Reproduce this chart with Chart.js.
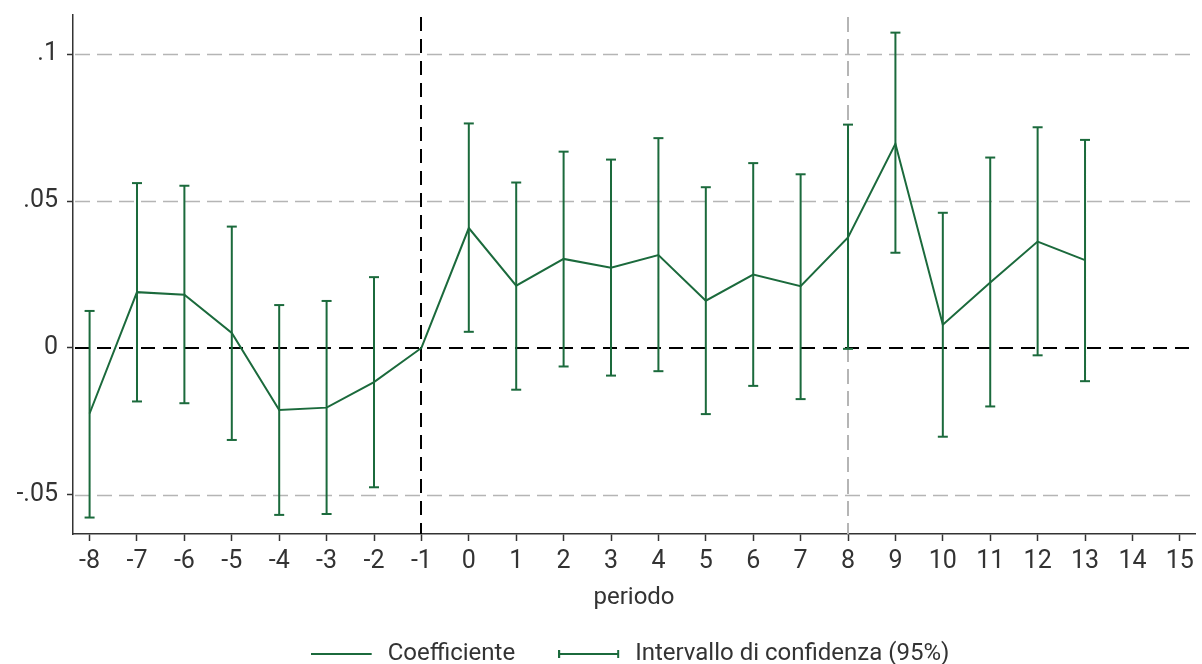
<!DOCTYPE html>
<html>
<head>
<meta charset="utf-8">
<title>Coefficienti per periodo</title>
<script src="https://cdn.jsdelivr.net/npm/chart.js@4/dist/chart.umd.min.js"></script>
<style>
  html, body { margin: 0; padding: 0; background: #ffffff; }
  #wrap { width: 1202px; height: 664px; }
</style>
</head>
<body>
<div id="wrap"><canvas id="chart" width="1202" height="664"></canvas></div>
<script>
// Periods relative to the event (period -1 is the reference, fixed at 0)
const periods = [-8, -7, -6, -5, -4, -3, -2, -1, 0, 1, 2, 3, 4, 5, 6, 7, 8, 9, 10, 11, 12, 13];

// Point estimates
const coefficients = [-0.0223, 0.0190, 0.0181, 0.0051, -0.0211, -0.0203, -0.0116, 0.0000,
                      0.0408, 0.0212, 0.0303, 0.0273, 0.0316, 0.0161, 0.0250, 0.0210,
                      0.0376, 0.0695, 0.0079, 0.0223, 0.0362, 0.0299];

// 95% confidence bounds (none for the reference period)
const ciLower = [-0.0577, -0.0182, -0.0188, -0.0313, -0.0568, -0.0565, -0.0474, null,
                  0.0055, -0.0142, -0.0063, -0.0094, -0.0079, -0.0225, -0.0129, -0.0174,
                 -0.0003, 0.0324, -0.0302, -0.0199, -0.0025, -0.0113];
const ciUpper = [0.0126, 0.0561, 0.0552, 0.0413, 0.0146, 0.0160, 0.0241, null,
                 0.0764, 0.0563, 0.0668, 0.0641, 0.0714, 0.0547, 0.0629, 0.0591,
                 0.0760, 0.1073, 0.0460, 0.0648, 0.0751, 0.0708];

// Axis ticks
const xTicks = [-8, -7, -6, -5, -4, -3, -2, -1, 0, 1, 2, 3, 4, 5, 6, 7, 8, 9, 10, 11, 12, 13, 14, 15];
const yTicks = [-0.05, 0, 0.05, 0.1];
const yTickLabels = ['-.05', '0', '.05', '.1'];

// Vertical reference lines
const eventLine = [-1];
const markerLine = [8];

const GREEN = '#1b6a3c';
const GRID = '#b5b5b5';
const INK = '#333333';

Chart.defaults.font.family = 'Roboto, "Noto Sans", sans-serif';
Chart.defaults.color = INK;

// Error-bar series: each interval is a two-point segment, broken by a null
const ciPoints = [];
periods.forEach((p, i) => {
  if (ciLower[i] === null || ciUpper[i] === null) return;
  ciPoints.push({ x: p, y: ciLower[i] }, { x: p, y: ciUpper[i] }, { x: p, y: null });
});

// Legend symbols
function legendSymbol(withCaps) {
  const c = document.createElement('canvas');
  c.width = 65; c.height = 12;
  const g = c.getContext('2d');
  g.strokeStyle = GREEN;
  g.lineWidth = 2;
  g.beginPath();
  g.moveTo(0, 6); g.lineTo(61, 6);
  if (withCaps) {
    g.moveTo(1, 2); g.lineTo(1, 10);
    g.moveTo(60, 2); g.lineTo(60, 10);
  }
  g.stroke();
  return c;
}
const symCoef = legendSymbol(false);
const symCI = legendSymbol(true);

// Gridlines and reference lines, placed through the chart scales
const referenceLines = {
  id: 'referenceLines',
  beforeDatasetsDraw(chart) {
    const { ctx, chartArea: a, scales: { x, y } } = chart;
    const seg = (x1, y1, x2, y2, color, width, dash) => {
      ctx.save();
      ctx.strokeStyle = color;
      ctx.lineWidth = width;
      ctx.setLineDash(dash);
      ctx.beginPath();
      ctx.moveTo(x1, y1);
      ctx.lineTo(x2, y2);
      ctx.stroke();
      ctx.restore();
    };
    yTicks.forEach(v => {
      if (v === 0) return;
      const py = Math.round(y.getPixelForValue(v)) + 0.5;
      seg(a.left + 2, py, a.right, py, GRID, 1.5, [15, 7]);
    });
    markerLine.forEach(v => {
      const px = Math.round(x.getPixelForValue(v));
      seg(px, a.top + 2, px, a.bottom, GRID, 2, [15, 7]);
    });
    const py0 = Math.round(y.getPixelForValue(0));
    seg(a.left + 2, py0, a.right, py0, '#000000', 2, [14, 8]);
    eventLine.forEach(v => {
      const px = Math.round(x.getPixelForValue(v));
      seg(px, a.top + 2, px, a.bottom, '#000000', 2, [14, 8]);
    });
  }
};

// Centre the legend row under the plot rather than the whole canvas
const legendOffset = {
  id: 'legendOffset',
  afterLayout(chart) {
    const lg = chart.legend;
    if (!lg) return;
    lg.left += 30;
    lg.right += 30;
  }
};

new Chart(document.getElementById('chart'), {
  type: 'scatter',
  data: {
    datasets: [
      {
        label: 'Intervallo di confidenza (95%)',
        data: ciPoints,
        showLine: true,
        spanGaps: false,
        borderColor: GREEN,
        borderWidth: 2,
        pointStyle: 'line',
        pointRadius: 5,
        pointHoverRadius: 5,
        pointBorderColor: GREEN,
        pointBorderWidth: 2,
        pointBackgroundColor: GREEN
      },
      {
        label: 'Coefficiente',
        data: periods.map((p, i) => ({ x: p, y: coefficients[i] })),
        showLine: true,
        borderColor: GREEN,
        borderWidth: 2,
        pointRadius: 0,
        pointHoverRadius: 0,
        tension: 0
      }
    ]
  },
  options: {
    responsive: false,
    animation: false,
    events: [],
    layout: { padding: { top: 15, left: 0, right: 2, bottom: -12 } },
    plugins: {
      tooltip: { enabled: false },
      legend: {
        position: 'bottom',
        labels: {
          usePointStyle: true,
          pointStyleWidth: 65,
          padding: 43,
          color: INK,
          font: { size: 24 },
          generateLabels: () => [
            { text: 'Coefficiente', pointStyle: symCoef, fontColor: INK, lineWidth: 0,
              strokeStyle: 'rgba(0,0,0,0)', fillStyle: 'rgba(0,0,0,0)', hidden: false, datasetIndex: 1 },
            { text: 'Intervallo di confidenza (95%)', pointStyle: symCI, fontColor: INK, lineWidth: 0,
              strokeStyle: 'rgba(0,0,0,0)', fillStyle: 'rgba(0,0,0,0)', hidden: false, datasetIndex: 0 }
          ]
        }
      }
    },
    scales: {
      x: {
        type: 'linear',
        min: -8.35,
        max: 15.32,
        afterBuildTicks: s => { s.ticks = xTicks.map(v => ({ value: v })); },
        afterFit: s => { s.height = 65; s.paddingLeft = 0; s.paddingRight = 0; },
        ticks: {
          autoSkip: false,
          maxRotation: 0,
          padding: 6,
          color: INK,
          font: { size: 25 },
          callback: v => String(v)
        },
        grid: { drawOnChartArea: false, drawTicks: true, tickLength: 7, tickColor: INK, tickWidth: 1.5 },
        border: { display: true, color: INK, width: 1.5 },
        title: {
          display: true,
          text: 'periodo',
          color: INK,
          font: { size: 24, lineHeight: 1 },
          padding: { top: 0, bottom: -11 }
        }
      },
      y: {
        type: 'linear',
        min: -0.0633,
        max: 0.1133,
        afterBuildTicks: s => { s.ticks = yTicks.map(v => ({ value: v })); },
        afterFit: s => { s.width = 73; s.paddingTop = 0; s.paddingBottom = 0; },
        ticks: {
          padding: 9,
          color: INK,
          font: { size: 25 },
          callback: v => yTickLabels[yTicks.indexOf(v)]
        },
        grid: { drawOnChartArea: false, drawTicks: true, tickLength: 6, tickColor: INK, tickWidth: 1.5 },
        border: { display: true, color: INK, width: 1.5 }
      }
    }
  },
  plugins: [referenceLines, legendOffset]
});
</script>
</body>
</html>
